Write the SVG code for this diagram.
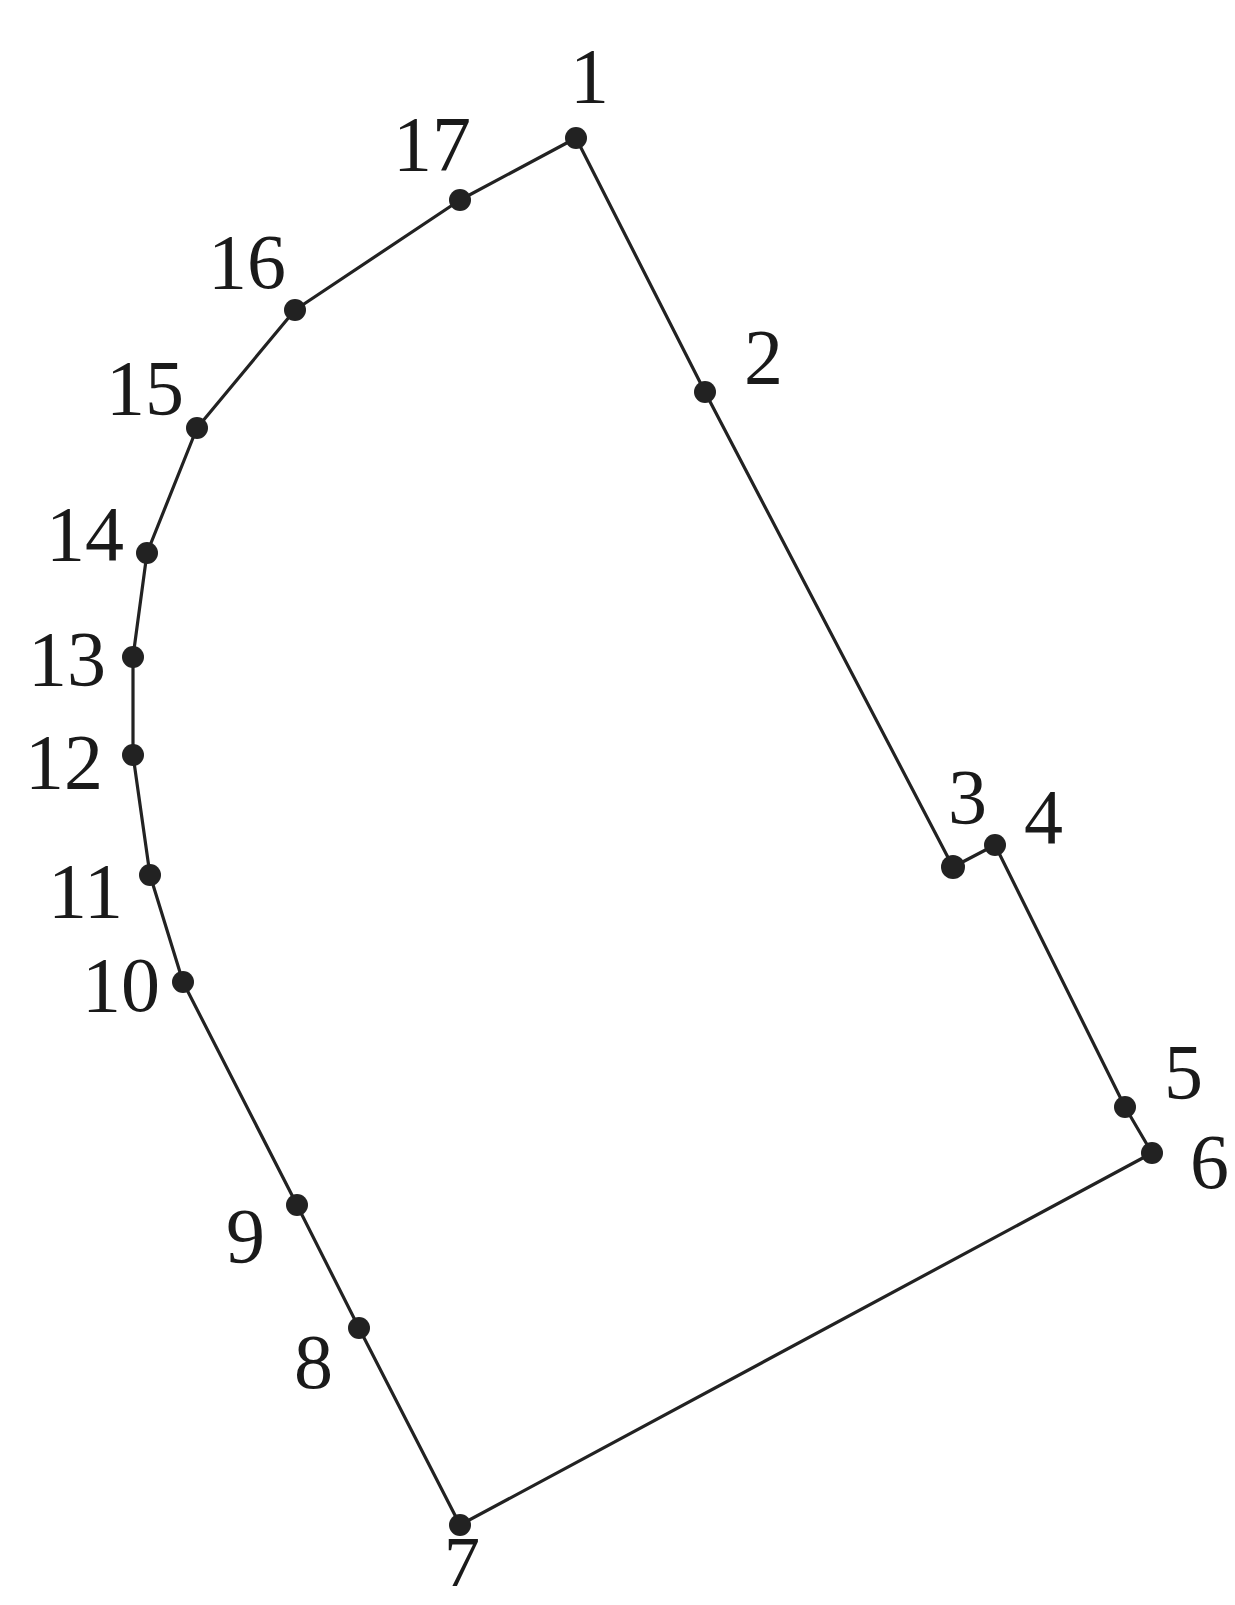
<svg xmlns="http://www.w3.org/2000/svg" width="1235" height="1605" viewBox="0 0 1235 1605">
<style>
.edge{fill:none;stroke:#222;stroke-width:3.2;stroke-linejoin:round}
.pt{fill:#222}
.lbl{font-family:"Liberation Serif","Times New Roman",serif;font-size:78px;fill:#1a1a1a}
</style>
<rect width="1235" height="1605" fill="#fff"/>
<g id="connectors">
<polygon class="edge" points="576,138 705,392 953,867 995,845 1125,1107 1152,1153 460,1525 359,1328 297,1205 183,982 150,875 133,755 133,657 147,553 197,428 295,310 460,200"/>
</g>
<g id="n1"><circle class="pt" cx="576" cy="138" r="11"/><text class="lbl" x="570" y="102">1</text></g>
<g id="n2"><circle class="pt" cx="705" cy="392" r="11"/><text class="lbl" x="744" y="383">2</text></g>
<g id="n3"><circle class="pt" cx="953" cy="867" r="12"/><text class="lbl" x="948" y="823">3</text></g>
<g id="n4"><circle class="pt" cx="995" cy="845" r="11"/><text class="lbl" x="1024" y="843">4</text></g>
<g id="n5"><circle class="pt" cx="1125" cy="1107" r="11"/><text class="lbl" x="1164" y="1098">5</text></g>
<g id="n6"><circle class="pt" cx="1152" cy="1153" r="11"/><text class="lbl" x="1190" y="1188">6</text></g>
<g id="n7"><circle class="pt" cx="460" cy="1525" r="11"/><text class="lbl" x="444" y="1586" style="font-size:72px">7</text></g>
<g id="n8"><circle class="pt" cx="359" cy="1328" r="11"/><text class="lbl" x="294" y="1388">8</text></g>
<g id="n9"><circle class="pt" cx="297" cy="1205" r="11"/><text class="lbl" x="226" y="1262">9</text></g>
<g id="n10"><circle class="pt" cx="183" cy="982" r="11"/><text class="lbl" x="82" y="1011">10</text></g>
<g id="n11"><circle class="pt" cx="150" cy="875" r="11"/><text class="lbl" x="48" y="917">11</text></g>
<g id="n12"><circle class="pt" cx="133" cy="755" r="11"/><text class="lbl" x="25" y="788">12</text></g>
<g id="n13"><circle class="pt" cx="133" cy="657" r="11"/><text class="lbl" x="28" y="685">13</text></g>
<g id="n14"><circle class="pt" cx="147" cy="553" r="11"/><text class="lbl" x="46" y="560">14</text></g>
<g id="n15"><circle class="pt" cx="197" cy="428" r="11"/><text class="lbl" x="106" y="414">15</text></g>
<g id="n16"><circle class="pt" cx="295" cy="310" r="11"/><text class="lbl" x="208" y="288">16</text></g>
<g id="n17"><circle class="pt" cx="460" cy="200" r="11"/><text class="lbl" x="393" y="170">17</text></g>
</svg>
